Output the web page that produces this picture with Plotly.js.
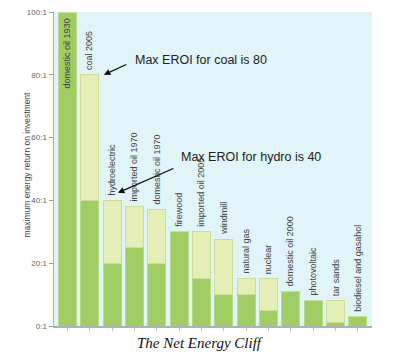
<!DOCTYPE html>
<html>
<head>
<meta charset="utf-8">
<script src="https://cdn.plot.ly/plotly-3.0.1.min.js"></script>
<style>html,body{margin:0;padding:0;background:#fff;}#chart{width:400px;height:354px;}</style>
</head>
<body>
<div id="chart"></div>
<script>
const categories = ["domestic oil 1930","coal 2005","hydroelectric","imported oil 1970","domestic oil 1970","firewood","imported oil 2005","windmill","natural gas","nuclear","domestic oil 2000","photovoltaic","tar sands","biodiesel and gasahol"];
const minEroi = [100, 40, 20, 25, 20, 30, 15, 10, 10, 5, 11, 8, 1, 3];
const maxEroi = [100, 80, 40, 38, 37, 30, 30, 27.5, 15, 15, 11, 8, 8, 3];
const yTickVals = [0, 20, 40, 60, 80, 100];
const yTickText = ["0:1", "20:1", "40:1", "60:1", "80:1", "100:1"];
const yTitle = "maximum energy return on investment";
const caption = "The Net Energy Cliff";

const extra = maxEroi.map((v, i) => v - minEroi[i]);
const sans = 'Liberation Sans, Arial, sans-serif';

const traces = [
  {type: 'bar', x: categories, y: minEroi, marker: {color: '#a0cd64', line: {color: '#b9dc8c', width: 1}}, hoverinfo: 'skip'},
  {type: 'bar', x: categories, y: extra, marker: {color: '#e5eeb6', line: {color: '#cddf96', width: 1}}, hoverinfo: 'skip'}
];

const annotations = categories.map((c, i) => {
  const inside = i === 0;
  return {
    x: c, y: maxEroi[i], xref: 'x', yref: 'y', text: c, showarrow: false,
    textangle: -90, yanchor: inside ? 'top' : 'bottom', xanchor: 'center',
    yshift: inside ? -4 : 3,
    font: {family: sans, size: 9, color: '#444'}
  };
});

annotations.push(
  {x: 1.63, y: 80, xref: 'x', yref: 'y', ax: 1.63 + 24/22.33, ay: 80 + 11/3.14, axref: 'x', ayref: 'y',
   text: ' ', font: {size: 1}, showarrow: true, arrowhead: 2, arrowsize: 1, arrowwidth: 1.3, arrowcolor: '#111'},
  {x: 1.63 + 29/22.33, y: 80 + 15/3.14, xref: 'x', yref: 'y', text: 'Max EROI for coal is 80', showarrow: false,
   xanchor: 'left', yanchor: 'middle', font: {family: sans, size: 12.5, color: '#222'}},
  {x: 2.26, y: 42.4, xref: 'x', yref: 'y', ax: 2.26 + 57/22.33, ay: 42.4 + 25/3.14, axref: 'x', ayref: 'y',
   text: ' ', font: {size: 1}, showarrow: true, arrowhead: 2, arrowsize: 1, arrowwidth: 1.3, arrowcolor: '#111'},
  {x: 2.26 + 61/22.33, y: 42.4 + 36/3.14, xref: 'x', yref: 'y', text: 'Max EROI for hydro is 40', showarrow: false,
   xanchor: 'left', yanchor: 'middle', font: {family: sans, size: 12.5, color: '#222'}},
  {x: -0.086, y: 0.513, xref: 'paper', yref: 'paper', text: yTitle, showarrow: false, textangle: -90,
   xanchor: 'center', yanchor: 'middle', font: {family: sans, size: 8.5, color: '#444'}},
  {x: 0.46, y: -0.055, xref: 'paper', yref: 'paper', text: '<i>' + caption + '</i>', showarrow: false,
   xanchor: 'center', yanchor: 'middle', font: {family: 'Liberation Serif, serif', size: 15, color: '#111'}}
);

const layout = {
  width: 400, height: 354,
  margin: {l: 54, r: 28, t: 12, b: 28},
  paper_bgcolor: '#ffffff', plot_bgcolor: '#e1f4f8',
  barmode: 'stack', bargap: 0.19, showlegend: false,
  xaxis: {type: 'category', range: [-0.6, 13.64], showticklabels: false, ticks: 'outside', ticklen: 3, tickcolor: '#bbb',
          showline: true, linecolor: '#a8b4b8', linewidth: 1.5, showgrid: false, zeroline: false, fixedrange: true},
  yaxis: {range: [0, 100], tickvals: yTickVals, ticktext: yTickText, ticks: 'outside', ticklen: 4, tickcolor: '#999',
          showline: true, linecolor: '#a8b4b8', linewidth: 1.5, showgrid: false, zeroline: false,
          tickfont: {family: sans, size: 8, color: '#666'}},
  annotations: annotations
};

Plotly.newPlot('chart', traces, layout, {displayModeBar: false, staticPlot: true});
</script>
</body>
</html>
